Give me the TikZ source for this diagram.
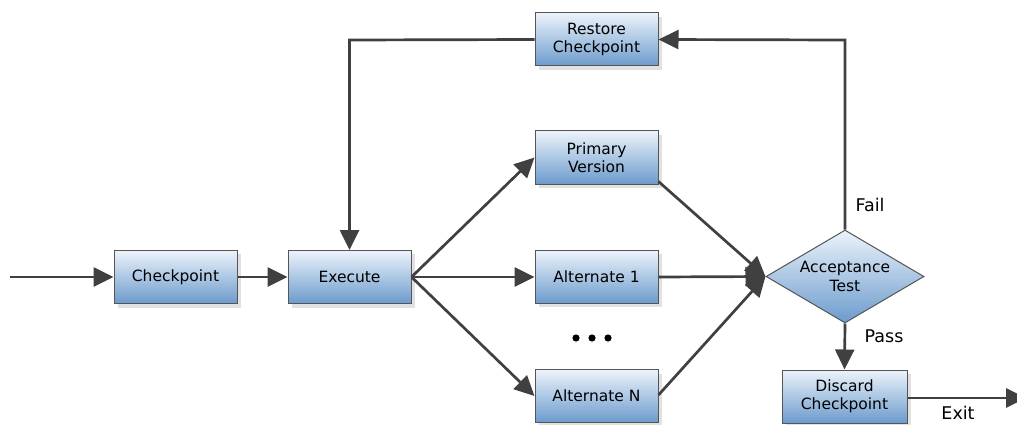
\documentclass[tikz,border=0pt]{standalone}
\usepackage{fontspec}
\setmainfont{DejaVu Sans}
\usetikzlibrary{arrows.meta,shapes.geometric,calc}
\definecolor{boxtop}{RGB}{236,243,251}
\definecolor{boxbot}{RGB}{108,155,204}
\definecolor{edge}{RGB}{85,85,85}
\definecolor{arr}{RGB}{64,64,64}
\definecolor{shad}{RGB}{225,225,225}
\tikzset{
  procbox/.style={draw=edge, line width=1pt, top color=boxtop, bottom color=boxbot,
    minimum width=123pt, minimum height=53pt, inner sep=0pt, align=center,
    font=\fontsize{15.5}{18.3}\selectfont},
  decbox/.style={draw=edge, line width=1pt, diamond, aspect=1.7, top color=boxtop, bottom color=boxbot,
    minimum width=158pt, minimum height=93pt, inner sep=0pt, align=center,
    font=\fontsize{15.5}{18.3}\selectfont},
  conn/.style={draw=arr, line width=2.7pt, -{Triangle[length=20pt,width=19pt]}},
  lbl/.style={font=\fontsize{17.5}{20}\selectfont, inner sep=0pt},
}
\begin{document}
\begin{tikzpicture}[x=1pt,y=-1pt]
\useasboundingbox (0,0) rectangle (1017,425);
% shadows
\fill[shad] (539,17) rectangle (662,70);
\fill[shad] (539,135) rectangle (662,188);
\fill[shad] (539,254) rectangle (662,307);
\fill[shad] (539,374) rectangle (662,426);
\fill[shad] (118,254) rectangle (241,308);
\fill[shad] (292,254) rectangle (415,308);
\fill[shad] (786,374) rectangle (911,427);
\node[procbox] (restore) at (596.5,39.5) {Restore\\Checkpoint};
\node[procbox] (primary) at (596.5,157.5) {Primary\\Version};
\node[procbox] (alt1) at (596.5,277) {Alternate 1};
\node[procbox] (altn) at (596.5,396) {Alternate N};
\node[procbox] (check) at (175.5,277) {Checkpoint};
\node[procbox] (exec) at (349.5,277) {Execute};
\node[decbox] (accept) at (845,276.5) {Acceptance\\Test};
\node[procbox, minimum width=125pt] (discard) at (844.5,396.5) {Discard\\Checkpoint};
\coordinate (in) at (10,277);
\coordinate (out) at (1026,398);
\coordinate (tl) at (349.5,40);
\coordinate (tr) at (845,40);
% connectors
\draw[conn] (in) -- (check.west);
\draw[conn] (check.east) -- (exec.west);
\draw[conn] (exec.east) -- (primary.west);
\draw[conn] (exec.east) -- (alt1.west);
\draw[conn] (exec.east) -- (altn.west);
\draw[conn] ($(primary.south east)+(0,-3)$) -- (accept.west);
\draw[conn] (alt1.east) -- (accept.west);
\draw[conn] ($(altn.east)+(0,-1)$) -- (accept.west);
\draw[conn] (accept.north) -- (tr) -- (restore.east);
\draw[conn] (restore.west) -- (tl) -- (exec.north);
\draw[conn] (accept.south) -- (discard.north);
\draw[conn] ($(discard.east)+(0,1.5)$) -- (out);
% labels
\node[lbl] (fail) at (870,205) {Fail};
\node[lbl] (pass) at (884,336) {Pass};
\node[lbl, anchor=base] (exit) at (958,419) {Exit};
\fill[black] (576,338) circle (3.6) (592,338) circle (3.6) (608,338) circle (3.6);
\end{tikzpicture}
\end{document}
